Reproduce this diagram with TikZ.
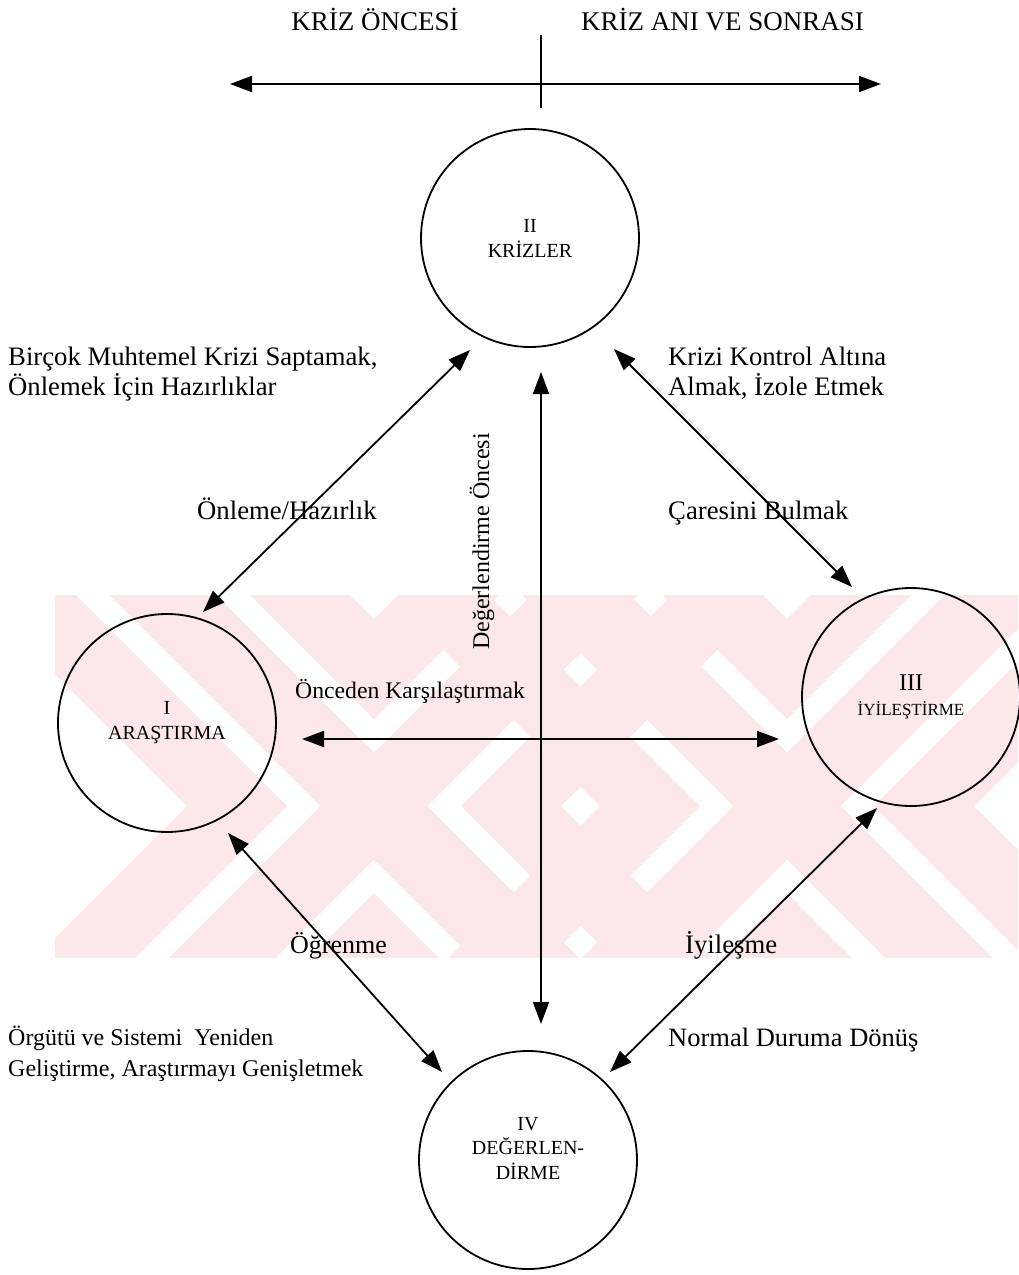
\documentclass[tikz,border=0pt]{standalone}
\usepackage{fontspec}
\setmainfont{Liberation Serif}
\usetikzlibrary{arrows.meta,shapes.geometric}
\definecolor{wmpink}{RGB}{252,231,235}
\begin{document}
\begin{tikzpicture}[x=1pt,y=-1pt,
  stage/.style={draw, line width=1.8pt, circle, minimum size=218pt,
    inner sep=0pt, align=center, font=\fontsize{20}{25}\selectfont},
  link/.style={line width=1.8pt, {Triangle[length=22pt,width=16pt]}-{Triangle[length=22pt,width=16pt]}},
  lbl/.style={anchor=base west, inner sep=0pt, font=\fontsize{26.7}{30}\selectfont},
  hdr/.style={anchor=base, inner sep=0pt, font=\fontsize{27}{30}\selectfont},
  wm/.style={fill=wmpink},
]
\useasboundingbox (0,0) rectangle (1018,1275);

% faint background emblem: two crossed bands, each with nested chevrons
\begin{scope}
  \clip (55,595) rectangle (1018,957);
  \foreach \cx in {374,787}{
    \begin{scope}[shift={(\cx,806)}]
      \fill[wm] (-353.5,-300) -- (-246.5,-300) -- (353.5,300) -- (246.5,300) -- cycle;
      \fill[wm] (246.5,-300) -- (353.5,-300) -- (-246.5,300) -- (-353.5,300) -- cycle;
      \fill[wm] (-300,-387) -- (0,-87) -- (300,-387) -- (200,-387) -- (0,-187) -- (-200,-387) -- cycle;
      \fill[wm] (-300,387) -- (0,87) -- (300,387) -- (200,387) -- (0,187) -- (-200,387) -- cycle;
      \fill[wm] (-387,-300) -- (-87,0) -- (-387,300) -- (-387,200) -- (-187,0) -- (-387,-200) -- cycle;
      \fill[wm] (387,-300) -- (87,0) -- (387,300) -- (387,200) -- (187,0) -- (387,-200) -- cycle;
    \end{scope}
  }
\end{scope}

% time axis
\coordinate (axL) at (230,84);
\coordinate (axR) at (881,84);
\coordinate (tickT) at (541,35);
\coordinate (tickB) at (541,108);
\draw[link] (axL) -- (axR);
\draw[line width=1.5pt] (tickT) -- (tickB);
\node[hdr] (before) at (375,30) {KRİZ ÖNCESİ};
\node[hdr] (after) at (722.5,30) {KRİZ ANI VE SONRASI};

% the four stages
\node[stage] (II) at (530,238) {II\\KRİZLER};
\node[stage] (I) at (167,723) {I\\ARAŞTIRMA};
\node[stage] (III) at (911,697) {{\fontsize{24}{26}\selectfont III}\\{\fontsize{17}{22}\selectfont İYİLEŞTİRME}};
\node[stage] (IV) at (528,1160) {};
\node[align=center, inner sep=0pt, font=\fontsize{20}{24.5}\selectfont] (IVtext) at (528,1148)
  {IV\\DEĞERLEN-\\DİRME};

% arrow ends near the stages
\coordinate (a1) at (470,350);  \coordinate (a2) at (203,612);
\coordinate (b1) at (614,349);  \coordinate (b2) at (852,587);
\coordinate (c1) at (228,833);  \coordinate (c2) at (442,1072);
\coordinate (d1) at (877,808);  \coordinate (d2) at (610,1072);
\coordinate (v1) at (541,372);  \coordinate (v2) at (541,1024);
\coordinate (h1) at (302,739);  \coordinate (h2) at (779,739);

\draw[link] (a1) -- (a2);
\draw[link] (b1) -- (b2);
\draw[link] (c1) -- (c2);
\draw[link] (d1) -- (d2);
\draw[link, line width=1.4pt] (v1) -- (v2);
\draw[link] (h1) -- (h2);

% labels
\node[lbl] (t1a) at (8,365) {Birçok Muhtemel Krizi Saptamak,};
\node[lbl] (t1b) at (8,395) {Önlemek İçin Hazırlıklar};
\node[lbl] (t2a) at (668,365) {Krizi Kontrol Altına};
\node[lbl] (t2b) at (668,395) {Almak, İzole Etmek};
\node[lbl] (prep) at (197,519) {Önleme/Hazırlık};
\node[lbl] (cure) at (668,519) {Çaresini Bulmak};
\node[lbl, rotate=90, font=\fontsize{24}{28}\selectfont] (preeval) at (489,650) {Değerlendirme Öncesi};
\node[lbl, font=\fontsize{23.7}{28}\selectfont] (compare) at (295,698) {Önceden Karşılaştırmak};
\node[lbl, font=\fontsize{26}{30}\selectfont] (learn) at (290,953) {Öğrenme};
\node[lbl] (heal) at (685,953) {İyileşme};
\node[lbl, font=\fontsize{24}{28}\selectfont] (t3a) at (8,1045) {Örgütü ve Sistemi~ Yeniden};
\node[lbl, font=\fontsize{24}{28}\selectfont] (t3b) at (8,1076) {Geliştirme, Araştırmayı Genişletmek};
\node[lbl, font=\fontsize{26.5}{30}\selectfont] (normal) at (668,1046) {Normal Duruma Dönüş};
\end{tikzpicture}
\end{document}
